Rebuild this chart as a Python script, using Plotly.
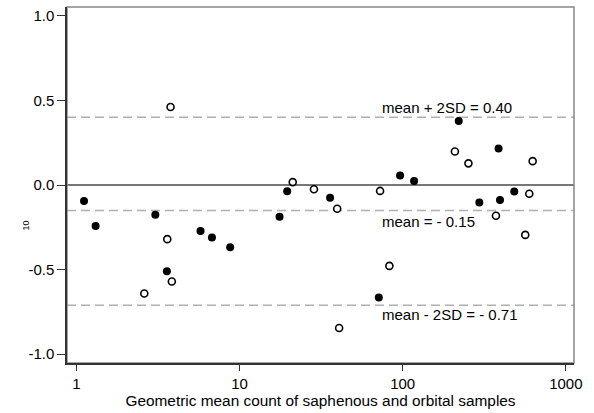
import plotly.graph_objects as go

# geometric mean count (x) and log10 difference (y)
filled_x = [1.115, 1.313, 3.05, 3.59, 5.77, 6.78, 8.77, 17.6, 19.6, 35.9,
            71.4, 96.4, 117.5, 220.6, 295, 387, 395, 483]
filled_y = [-0.095, -0.242, -0.176, -0.510, -0.272, -0.310, -0.368, -0.188, -0.037, -0.076,
            -0.665, 0.056, 0.023, 0.378, -0.103, 0.215, -0.089, -0.039]

open_x = [3.78, 2.61, 3.61, 3.85, 21.2, 28.6, 39.7, 40.8, 72.7, 82.9,
          209, 253, 373, 564, 597, 626]
open_y = [0.461, -0.641, -0.320, -0.570, 0.017, -0.025, -0.140, -0.845, -0.035, -0.478,
          0.198, 0.128, -0.182, -0.295, -0.052, 0.141]

mean_diff = -0.15
upper_loa = 0.40
lower_loa = -0.71

x_ticks = [1, 10, 100, 1000]
x_labels = ["1", "10", "100", "1000"]
y_ticks = [-1.0, -0.5, 0.0, 0.5, 1.0]
y_labels = ["-1.0", "-0.5", "0.0", "0.5", "1.0"]

font = "Liberation Sans, Arial, sans-serif"

fig = go.Figure()
fig.add_trace(go.Scatter(x=filled_x, y=filled_y, mode="markers",
                         marker=dict(size=8, color="black"), showlegend=False))
fig.add_trace(go.Scatter(x=open_x, y=open_y, mode="markers",
                         marker=dict(size=7, color="white", line=dict(color="black", width=1.6)),
                         showlegend=False))

# reference lines
fig.add_hline(y=0, line=dict(color="#777777", width=2), layer="below")
for v in [upper_loa, mean_diff, lower_loa]:
    fig.add_hline(y=v, line=dict(color="#b0b0b0", width=1.5, dash="9px,5px"), layer="below")

# frame
fig.add_shape(type="rect", xref="paper", yref="paper", x0=0, y0=0, x1=1, y1=1,
              line=dict(color="#888888", width=1.5), layer="below")

notes = [("mean + 2SD = 0.40", 0.459),
         ("mean = - 0.15", -0.215),
         ("mean - 2SD = - 0.71", -0.767)]
for txt, yy in notes:
    fig.add_annotation(x=0.618, xref="paper", y=yy, yref="y", text=txt, showarrow=False,
                       xanchor="left", yanchor="middle", font=dict(size=15, color="black"))

fig.add_annotation(x=-0.094, xref="paper", y=0.387, yref="paper", text="10", showarrow=False,
                   textangle=-90, font=dict(size=9, color="black"))

fig.update_xaxes(type="log", range=[-0.057, 3.05], tickvals=x_ticks, ticktext=x_labels,
                 ticks="outside", ticklen=6, tickcolor="#333333", showline=True,
                 linecolor="#333333", linewidth=1.5, showgrid=False, zeroline=False,
                 title=dict(text="Geometric mean count of saphenous and orbital samples",
                            font=dict(size=15.4), standoff=3),
                 tickfont=dict(size=15))
fig.update_yaxes(range=[-1.052, 1.052], tickvals=y_ticks, ticktext=y_labels,
                 ticks="outside", ticklen=8, tickcolor="#333333", showline=True,
                 linecolor="#333333", linewidth=1.5, showgrid=False, zeroline=False,
                 tickfont=dict(size=15))

fig.update_layout(width=594, height=413, margin=dict(l=67, r=20, t=7, b=44),
                  plot_bgcolor="white", paper_bgcolor="white",
                  font=dict(family=font, color="black"))

fig.write_html("out.html", config={"displayModeBar": False},
               post_script="document.body.style.margin='0';")
